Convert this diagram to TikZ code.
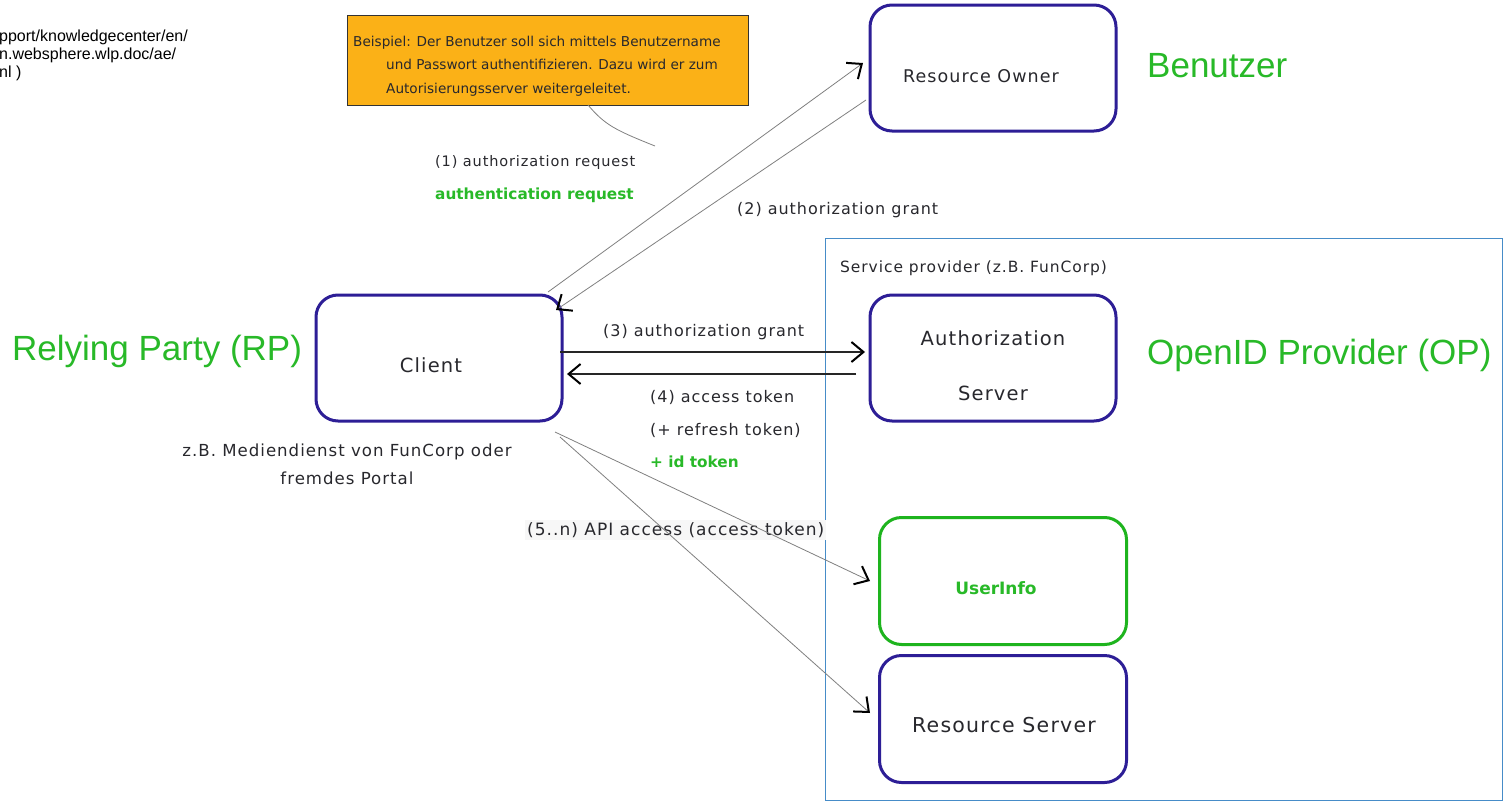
\documentclass[tikz,border=0pt]{standalone}
\usepackage{fontspec}
\setmainfont{DejaVu Sans}
\newfontfamily\lblfont[LetterSpace=6]{DejaVu Sans}
\newfontfamily\plainfont{DejaVu Sans}
\newfontfamily\arialfont{Liberation Sans}
\usetikzlibrary{arrows.meta}
\definecolor{boxblue}{RGB}{45,30,150}
\definecolor{boxgreen}{RGB}{30,180,30}
\definecolor{labelgreen}{RGB}{40,185,40}
\definecolor{notefill}{RGB}{251,177,23}
\definecolor{spblue}{RGB}{70,140,200}
\definecolor{textgray}{RGB}{40,40,45}
\begin{document}
\begin{tikzpicture}[x=1pt,y=-1pt,
  box/.style={draw=boxblue, line width=3pt, rounded corners=22pt, fill=white,
    minimum width=246pt, minimum height=126pt, inner sep=0pt},
  boxtext/.style={font=\lblfont\fontsize{19.5}{22}\selectfont, text=textgray, inner sep=0pt},
  lbl/.style={font=\lblfont\fontsize{16}{19}\selectfont, text=textgray, inner sep=0pt},
  grn/.style={font=\plainfont\bfseries\fontsize{15.3}{18}\selectfont, text=labelgreen, inner sep=0pt},
  big/.style={font=\arialfont\fontsize{35}{40}\selectfont, text=labelgreen, inner sep=0pt},
  arr/.style={draw=gray, line width=0.8pt, -{Straight Barb[length=12pt,width=20pt,line width=2pt,color=black]}},
  darr/.style={draw=black!85, line width=1.1pt, -{Straight Barb[length=12pt,width=20pt,line width=2pt,color=black]}}
]
\useasboundingbox (0,0) rectangle (1505,803);
\fill[white] (0,0) rectangle (1505,803);

% top-left reference text (clipped at the left edge)
\node[font=\arialfont\fontsize{16}{18}\selectfont, anchor=north west, align=left, inner sep=0pt, text=black] (ref) at (-1,30)
  {pport/knowledgecenter/en/\\n.websphere.wlp.doc/ae/\\nl )};

% service provider frame
\node[draw=spblue, line width=1pt, minimum width=677pt, minimum height=562pt, anchor=north west, inner sep=0pt] (sp) at (825,238) {};
\node[lbl, font=\lblfont\fontsize{15.5}{18}\selectfont, anchor=west] (splbl) at (840,268) {Service provider (z.B. FunCorp)};

% note
\node[draw=black!80, line width=1pt, fill=notefill, minimum width=401pt, minimum height=90pt, anchor=north west, inner sep=0pt] (note) at (347,15) {};
\node[font=\plainfont\fontsize{13.6}{23.5}\selectfont, text=textgray, align=left, anchor=west, inner sep=0pt] (notetext) at (353,66)
  {Beispiel: Der Benutzer soll sich mittels Benutzername\\
   \hspace*{33pt}und Passwort authentifizieren. Dazu wird er zum\\
   \hspace*{33pt}Autorisierungsserver weitergeleitet.};
\coordinate (nl1) at (588,105);
\coordinate (nl2) at (655,146);
\draw[gray, line width=0.8pt] (nl1) .. controls (605,125) and (615,130) .. (nl2);

% boxes
\node[box] (ro) at (993,68) {};
\node[box] (client) at (439,358) {};
\node[box] (as) at (993,358) {};
\node[box, draw=boxgreen, minimum width=247pt, minimum height=127pt] (ui) at (1003,581) {};
\node[box, minimum width=247pt, minimum height=127pt] (rs) at (1003,719) {};

% box texts
\node[boxtext, font=\lblfont\fontsize{17.5}{20}\selectfont] (rot) at (981,76) {Resource Owner};
\node[boxtext] (clientt) at (431,365) {Client};
\node[boxtext] (ast1) at (993,338) {Authorization};
\node[boxtext] (ast2) at (993,393) {Server};
\node[font=\plainfont\bfseries\fontsize{17}{20}\selectfont, text=labelgreen, inner sep=0pt] (uit) at (996,588) {UserInfo};
\node[boxtext, font=\lblfont\fontsize{20.5}{22}\selectfont] (rst) at (1004,725) {Resource Server};

% big green labels
\node[big, anchor=west] (rp) at (12,351) {Relying Party (RP)};
\node[big, anchor=west] (ben) at (1147,66) {Benutzer};
\node[big, anchor=west] (op) at (1147,355) {OpenID Provider (OP)};

% labels
\node[lbl, font=\lblfont\fontsize{14.5}{18}\selectfont, anchor=west] (l1) at (435,162) {(1) authorization request};
\node[grn, anchor=west] (l1g) at (435,195) {authentication request};
\node[lbl, anchor=west] (l2) at (737,210) {(2) authorization grant};
\node[lbl, anchor=west] (l3) at (603,332) {(3) authorization grant};
\node[lbl, anchor=west] (l4) at (650,397) {(4) access token};
\node[lbl, anchor=west] (l4b) at (650,430) {(+ refresh token)};
\node[grn, anchor=west] (l4g) at (650,462) {+ id token};
\node[lbl, align=center, font=\lblfont\fontsize{16.6}{28}\selectfont] (zb) at (347,464) {z.B. Mediendienst von FunCorp oder\\fremdes Portal};
\node[lbl, font=\lblfont\fontsize{17}{19}\selectfont, anchor=west, fill=black!3, inner sep=2pt] (l5) at (525,530) {(5..n) API access (access token)};

% arrows
\coordinate (a1s) at (548,292);
\coordinate (a1e) at (863,63);
\coordinate (a2s) at (866,100);
\coordinate (a2e) at (556,310);
\coordinate (a3s) at (560,352);
\coordinate (a3e) at (865,352);
\coordinate (a4s) at (856,374);
\coordinate (a4e) at (567,374);
\coordinate (a5s) at (555,432);
\coordinate (a5e) at (870,581);
\coordinate (a6s) at (560,437);
\coordinate (a6e) at (870,713);
\draw[arr] (a1s) -- (a1e);
\draw[arr] (a2s) -- (a2e);
\draw[darr] (a3s) -- (a3e);
\draw[darr] (a4s) -- (a4e);
\draw[arr] (a5s) -- (a5e);
\draw[arr] (a6s) -- (a6e);
\end{tikzpicture}
\end{document}
